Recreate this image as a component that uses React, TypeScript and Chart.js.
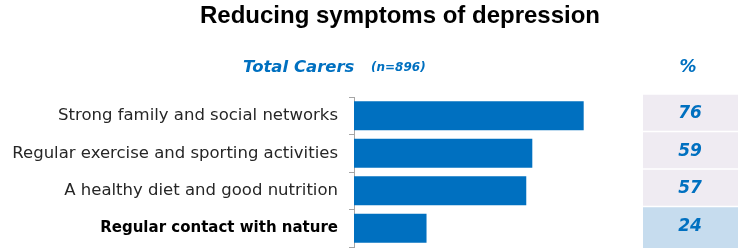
import { useEffect, useRef } from "react";
import { Chart, registerables } from "chart.js";
Chart.register(...registerables);

const chartTitle = "Reducing symptoms of depression";
const groupLabel = "Total Carers";
const sampleLabel = "(n=896)";
const valueHeader = "%";
const categories = [
  "Strong family and social networks",
  "Regular exercise and sporting activities",
  "A healthy diet and good nutrition",
  "Regular contact with nature",
];
const values = [76, 59, 57, 24];
const highlighted = [false, false, false, true];

const BLUE = "#0070C0";
const LABEL_FONT = "'DejaVu Sans', sans-serif";

const extrasPlugin = {
  id: "extras",
  afterDraw(chart: any) {
    const ctx = chart.ctx;
    const y = chart.scales.y;
    ctx.save();
    // title
    ctx.fillStyle = "#000";
    ctx.font = "bold 24px 'Liberation Sans', Arial, sans-serif";
    ctx.textAlign = "center";
    ctx.textBaseline = "middle";
    ctx.fillText(chartTitle, 400, 16);
    // header
    ctx.fillStyle = BLUE;
    ctx.textAlign = "left";
    ctx.font = "italic bold 16.5px 'DejaVu Sans', sans-serif";
    ctx.fillText(groupLabel, 243, 68);
    ctx.font = "italic bold 12px 'DejaVu Sans', sans-serif";
    ctx.fillText(sampleLabel, 371, 68);
    ctx.textAlign = "center";
    ctx.font = "italic bold 17px 'DejaVu Sans', sans-serif";
    ctx.fillText(valueHeader, 688, 68);
    // table cells
    values.forEach((v, i) => {
      const c = y.getPixelForValue(i);
      ctx.fillStyle = highlighted[i] ? "#C6DCEE" : "#EFEBF2";
      const top = c - 21;
      const h = i === values.length - 1 ? 248 - top : 36;
      ctx.fillRect(643, top, 95, h);
      ctx.fillStyle = BLUE;
      ctx.font = "italic bold 17px 'DejaVu Sans', sans-serif";
      ctx.textAlign = "center";
      ctx.textBaseline = "middle";
      ctx.fillText(String(v), 690, c - 2);
    });
    ctx.restore();
  },
};

export default function App() {
  const ref = useRef<HTMLCanvasElement>(null);
  useEffect(() => {
    if (!ref.current) return;
    const chart = new Chart(ref.current, {
      type: "bar",
      data: {
        labels: categories,
        datasets: [
          {
            data: values,
            backgroundColor: BLUE,
            borderWidth: 0,
            categoryPercentage: 1,
            barPercentage: 0.77,
          },
        ],
      },
      options: {
        indexAxis: "y",
        animation: false,
        responsive: false,
        maintainAspectRatio: false,
        layout: { padding: { top: 97, bottom: 1, left: 0, right: 112 } },
        plugins: {
          legend: { display: false },
          tooltip: { enabled: false },
          title: { display: false },
        },
        scales: {
          x: { display: false, min: 0, max: 90 },
          y: {
            afterFit: (s: any) => {
              s.width = 354;
              s.paddingTop = 0;
              s.paddingBottom = 0;
            },
            grid: {
              drawOnChartArea: false,
              drawTicks: true,
              tickLength: 5,
              color: "#A6A6A6",
            },
            border: { display: true, color: "#A6A6A6" },
            ticks: {
              padding: 11,
              color: (c: any) => (highlighted[c.index] ? "#000" : "#262626"),
              font: (c: any) => ({
                family: LABEL_FONT,
                size: highlighted[c.index] ? 15 : 16.5,
                weight: highlighted[c.index] ? "bold" : "normal",
              }),
            },
          },
        },
      },
      plugins: [extrasPlugin],
    });
    return () => chart.destroy();
  }, []);
  return (
    <div style={{ position: "fixed", left: 0, top: 0, width: 738, height: 248, background: "#fff" }}>
      <canvas ref={ref} width={738} height={248} />
    </div>
  );
}
